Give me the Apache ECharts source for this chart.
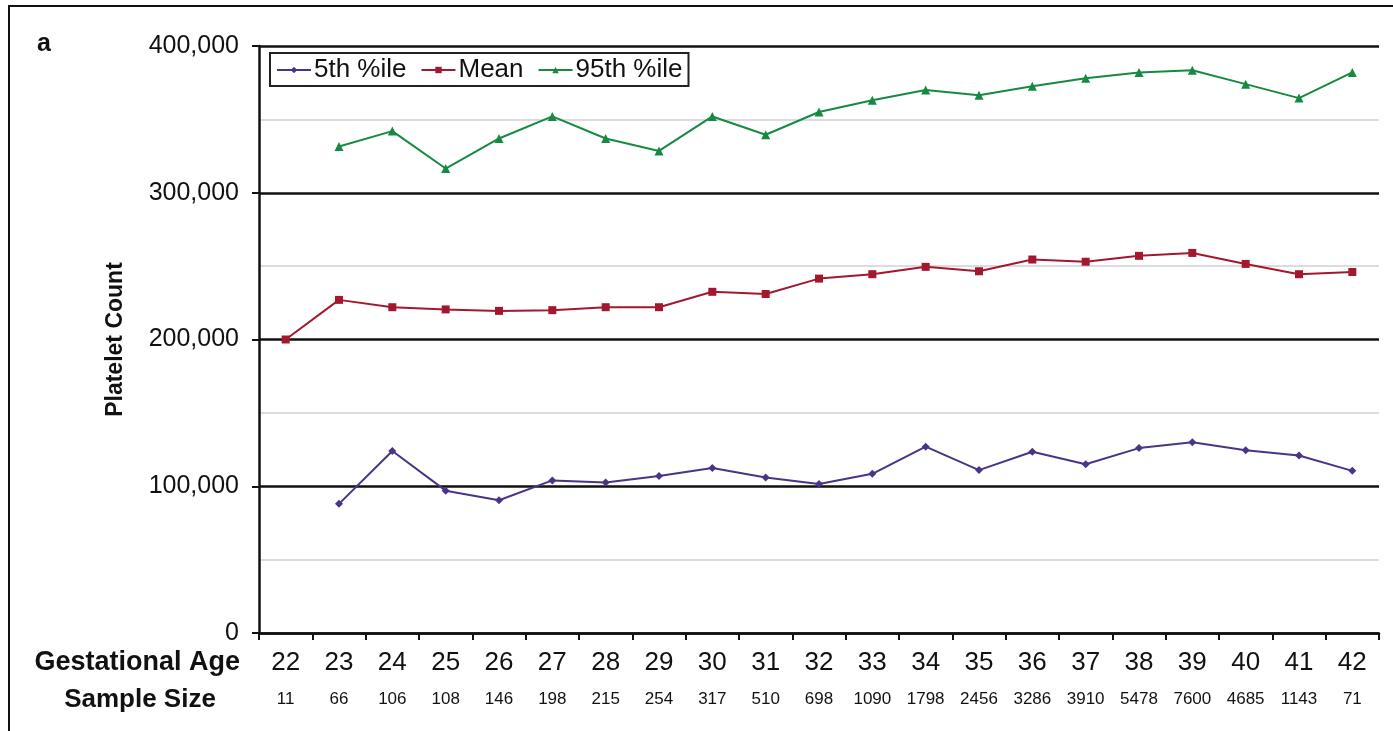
<!DOCTYPE html>
<html>
<head>
<meta charset="utf-8">
<title>Platelet Count by Gestational Age</title>
<script src="https://cdn.jsdelivr.net/npm/echarts@6/dist/echarts.min.js"></script>
<style>
  html, body { margin: 0; padding: 0; background: #fff; }
  #chart { width: 1393px; height: 731px; }
</style>
</head>
<body>
<div id="chart"></div>
<script>
// Gestational age (weeks) and number of samples per week
const gestationalAge = ['22','23','24','25','26','27','28','29','30','31','32','33','34','35','36','37','38','39','40','41','42'];
const sampleSize = ['11','66','106','108','146','198','215','254','317','510','698','1090','1798','2456','3286','3910','5478','7600','4685','1143','71'];

// Platelet counts per week (no 5th/95th percentile at 22 weeks)
const pct5th = [null, 88000, 124000, 97000, 90500, 104000, 102500, 107000, 112500, 106000, 101500, 108500, 127000, 111000, 123500, 115000, 126000, 130000, 124500, 121000, 110500];
const meanCount = [200000, 227000, 222000, 220500, 219500, 220000, 222000, 222000, 232500, 231000, 241500, 244500, 249500, 246500, 254500, 253000, 257000, 259000, 251500, 244500, 246000];
const pct95th = [null, 331500, 342000, 316500, 337000, 352000, 337000, 328500, 352000, 339500, 355000, 363000, 370000, 366500, 372500, 378000, 382000, 383500, 374000, 364500, 382000];

const yTicks = [0, 100000, 200000, 300000, 400000];

const FONT = '"Liberation Sans", Arial, Helvetica, sans-serif';
const chart = echarts.init(document.getElementById('chart'));

function fmt(v) {
  return v.toString().replace(/\B(?=(\d{3})+(?!\d))/g, ',');
}

chart.setOption({
  animation: false,
  backgroundColor: '#fff',
  textStyle: { fontFamily: FONT, color: '#111' },
  grid: { left: 259, right: 14, top: 46, bottom: 98, containLabel: false },
  legend: {
    left: 270,
    top: 53,
    orient: 'horizontal',
    padding: [4, 6, 3, 6],
    itemGap: 14,
    itemWidth: 34,
    itemHeight: 8,
    borderColor: '#222',
    borderWidth: 2,
    textStyle: { fontFamily: FONT, fontSize: 26, color: '#111', padding: [0, 0, 0, -2] },
    data: ['5th %ile', 'Mean', '95th %ile']
  },
  xAxis: [
    {
      type: 'category',
      data: gestationalAge,
      boundaryGap: true,
      axisLine: { lineStyle: { color: '#111', width: 2.5 } },
      axisTick: { show: true, inside: false, length: 7, lineStyle: { color: '#111', width: 2 } },
      axisLabel: { fontFamily: FONT, fontSize: 26, color: '#111', margin: 17, interval: 0 },
      splitLine: { show: false }
    },
    {
      type: 'category',
      position: 'bottom',
      data: sampleSize,
      boundaryGap: true,
      axisLine: { show: false },
      axisTick: { show: false },
      axisLabel: { fontFamily: FONT, fontSize: 17, color: '#111', margin: 58, interval: 0 },
      splitLine: { show: false }
    }
  ],
  yAxis: {
    type: 'value',
    min: yTicks[0],
    max: yTicks[yTicks.length - 1],
    interval: 100000,
    name: 'Platelet Count',
    nameLocation: 'middle',
    nameRotate: 90,
    nameGap: 132,
    nameTextStyle: { fontFamily: FONT, fontSize: 23, fontWeight: 'bold', color: '#111' },
    axisLine: { show: true, lineStyle: { color: '#111', width: 2.5 } },
    axisTick: { show: true, inside: false, length: 7, lineStyle: { color: '#111', width: 2 } },
    axisLabel: { fontFamily: FONT, fontSize: 25, color: '#111', margin: 20, formatter: v => fmt(v) },
    splitLine: { show: true, lineStyle: { color: '#111', width: 2.5 } },
    minorTick: { show: false, splitNumber: 2 },
    minorSplitLine: { show: true, lineStyle: { color: '#dcdcdc', width: 2 } }
  },
  series: [
    {
      name: '5th %ile',
      type: 'line',
      data: pct5th,
      connectNulls: false,
      symbol: 'diamond',
      symbolSize: 8,
      itemStyle: { color: '#4a3488' },
      lineStyle: { color: '#4a3488', width: 2 },
      z: 3
    },
    {
      name: 'Mean',
      type: 'line',
      data: meanCount,
      symbol: 'rect',
      symbolSize: 8,
      itemStyle: { color: '#a3182f' },
      lineStyle: { color: '#a3182f', width: 2 },
      z: 3
    },
    {
      name: '95th %ile',
      type: 'line',
      data: pct95th,
      symbol: 'triangle',
      symbolSize: 9,
      itemStyle: { color: '#168a42' },
      lineStyle: { color: '#168a42', width: 2 },
      z: 3
    }
  ],
  graphic: [
    {
      type: 'rect',
      shape: { x: 9, y: 6, width: 1400, height: 740 },
      style: { fill: 'none', stroke: '#111', lineWidth: 2 },
      silent: true
    },
    {
      type: 'text',
      left: 37, top: 32,
      style: { text: 'a', font: 'bold 25px ' + FONT, fill: '#111' }
    },
    {
      type: 'text',
      x: 240, y: 663,
      style: { text: 'Gestational Age', font: 'bold 27px ' + FONT, fill: '#111', align: 'right', verticalAlign: 'middle' }
    },
    {
      type: 'text',
      x: 140, y: 700,
      style: { text: 'Sample Size', font: 'bold 26px ' + FONT, fill: '#111', align: 'center', verticalAlign: 'middle' }
    }
  ]
});
</script>
</body>
</html>
